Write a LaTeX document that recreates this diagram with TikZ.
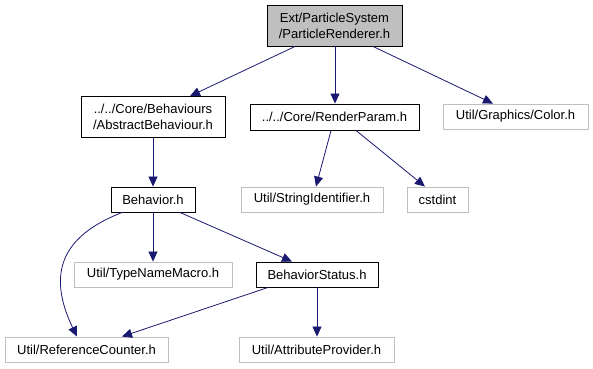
\documentclass[tikz,border=0pt]{standalone}
\usepackage{fontspec}
\setmainfont{Liberation Sans}
\usetikzlibrary{arrows.meta}
\definecolor{edgeblue}{HTML}{191970}
\definecolor{boxgray}{HTML}{BFBFBF}
\begin{document}
\begin{tikzpicture}[x=1pt,y=-1pt,
  file/.style={draw=black, line width=0.9pt, fill=white, inner sep=0pt, align=center, font=\fontsize{13}{16}\selectfont},
  extfile/.style={file, draw=boxgray},
  rootfile/.style={file, fill=boxgray},
  dep/.style={draw=edgeblue, line width=0.8pt, -{Triangle[length=10pt,width=9pt]}}]
\useasboundingbox (0,0) rectangle (593,368);
% nodes
\node[rootfile, minimum width=135pt, minimum height=41pt] (root) at (334.5,25.5) {Ext/ParticleSystem\\/ParticleRenderer.h};
\node[file, minimum width=144pt, minimum height=41pt] (abs) at (153,117) {../../Core/Behaviours\\/AbstractBehaviour.h};
\node[file, minimum width=169pt, minimum height=26pt] (rp) at (334.5,117) {../../Core/RenderParam.h};
\node[extfile, minimum width=145pt, minimum height=25pt] (col) at (515.5,116.5) {Util/Graphics/Color.h};
\node[file, minimum width=84pt, minimum height=25pt] (beh) at (153,199.5) {Behavior.h};
\node[extfile, minimum width=142pt, minimum height=25pt] (sid) at (312,199.5) {Util/StringIdentifier.h};
\node[extfile, minimum width=61pt, minimum height=25pt] (cst) at (437.5,199.5) {cstdint};
\node[extfile, minimum width=158pt, minimum height=25pt] (tnm) at (153,274.5) {Util/TypeNameMacro.h};
\node[file, minimum width=122pt, minimum height=25pt] (bs) at (317,274.5) {BehaviorStatus.h};
\node[extfile, minimum width=163pt, minimum height=25pt] (rc) at (86.5,349.5) {Util/ReferenceCounter.h};
\node[extfile, minimum width=155pt, minimum height=25pt] (ap) at (316.5,349.5) {Util/AttributeProvider.h};
% connectors
\draw[dep] (root.south -| 295,0) -- (abs.north -| 190,0);
\draw[dep] (root.south -| 335,0) -- (rp.north -| 335,0);
\draw[dep] (root.south -| 373,0) -- (col.north -| 493,0);
\draw[dep] (abs.south) -- (beh.north);
\draw[dep] (rp.south -| 331,0) -- (sid.north -| 316,0);
\draw[dep] (rp.south -| 356,0) -- (cst.north -| 425,0);
\draw[dep] (beh.south) -- (tnm.north);
\draw[dep] (beh.south -| 180,0) -- (bs.north -| 292,0);
\draw[dep] (beh.south -| 122,0) .. controls (78,230) and (40,260) .. (rc.north -| 77,0);
\draw[dep] (bs.south -| 268,0) -- (rc.north -| 122,0);
\draw[dep] (bs.south -| 317,0) -- (ap.north -| 317,0);
\end{tikzpicture}
\end{document}
